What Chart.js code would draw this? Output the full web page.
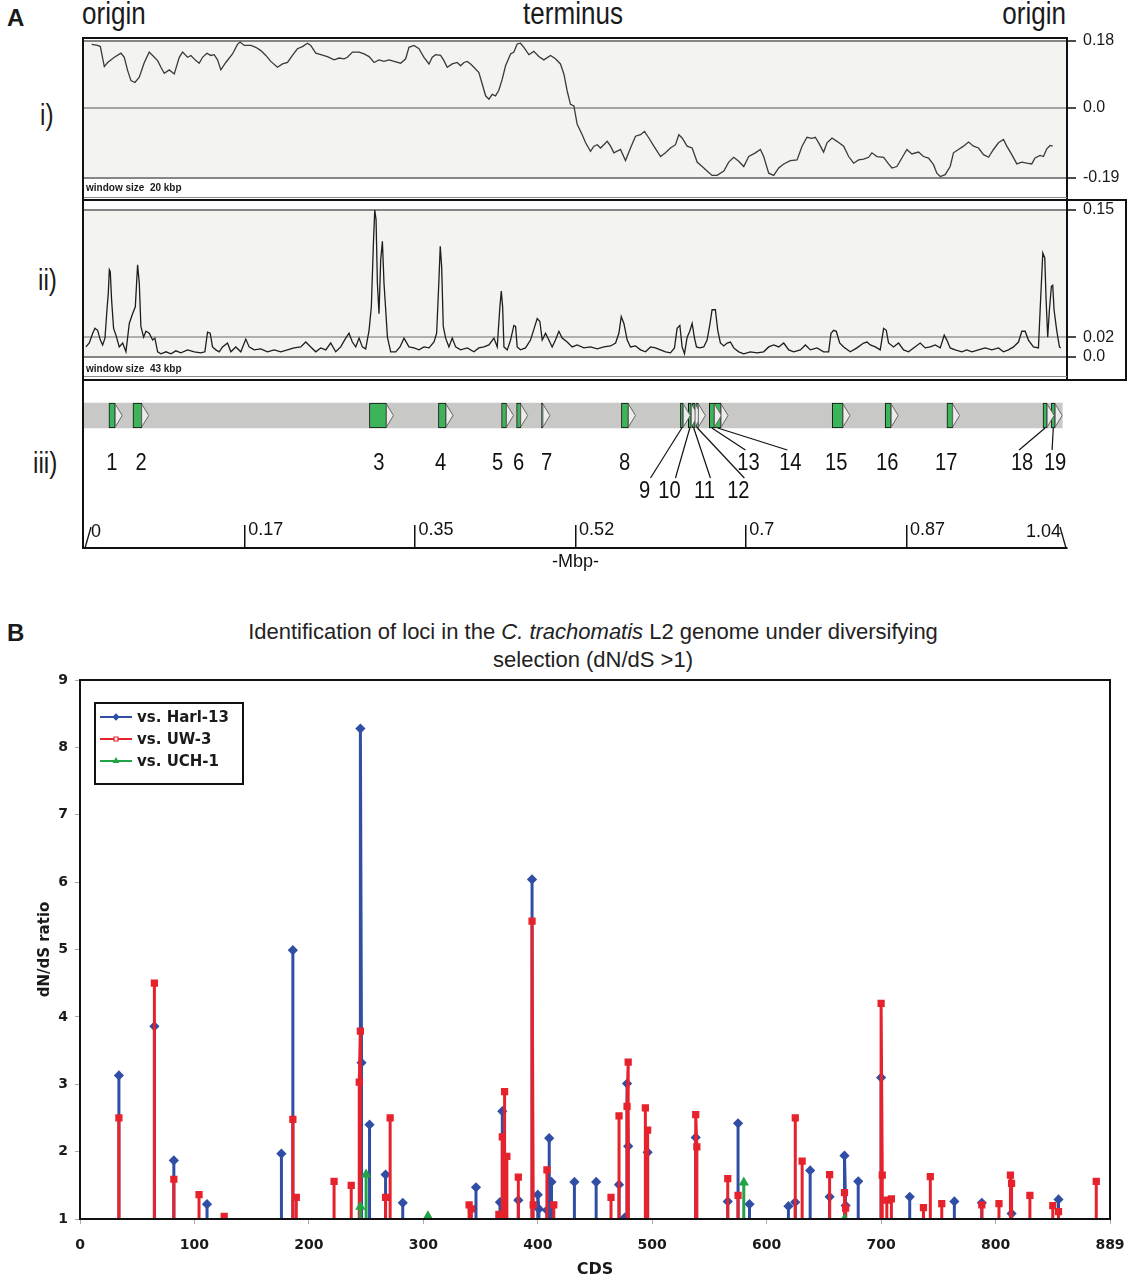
<!DOCTYPE html>
<html>
<head>
<meta charset="utf-8">
<title>C. trachomatis L2 genome</title>
<script src="https://cdn.jsdelivr.net/npm/chart.js@4.4.1/dist/chart.umd.min.js"></script>
<style>
html,body{margin:0;padding:0;background:#fff;}
#page{position:relative;width:1127px;height:1280px;overflow:hidden;background:#fff;color:#1a1a1a;font-family:'Liberation Sans',Arial,sans-serif;}
.t{position:absolute;white-space:nowrap;line-height:1;}
.n{font-family:'Liberation Sans Narrow','Liberation Sans',Arial,sans-serif;transform:scaleX(0.84);}
.r{position:absolute;background:#111;}
.g{position:absolute;background:#8a8a8a;}
.cv{position:absolute;}
</style>
</head>
<body>
<div id="page">
  <div class="t" style="left:7px;top:6px;font-weight:bold;font-size:24px;">A</div>
  <div class="t n" style="left:82px;top:-2px;font-size:31px;transform-origin:left center;">origin</div>
  <div class="t n" style="left:473px;width:200px;text-align:center;top:-2px;font-size:31px;transform-origin:center center;">terminus</div>
  <div class="t n" style="left:866px;width:200px;text-align:right;top:-2px;font-size:31px;transform-origin:right center;">origin</div>
  <div class="t n" style="left:40px;top:101px;font-size:29px;transform-origin:left center;">i)</div>
  <div class="t n" style="left:38px;top:266px;font-size:29px;transform-origin:left center;">ii)</div>
  <div class="t n" style="left:33px;top:449px;font-size:29px;transform-origin:left center;">iii)</div>

  <canvas id="c1" class="cv" width="1043" height="174" style="left:84px;top:26px"></canvas>
  <canvas id="c2" class="cv" width="1043" height="188" style="left:84px;top:192px"></canvas>
  <canvas id="c3" class="cv" width="1043" height="130" style="left:84px;top:385px"></canvas>
  <canvas id="c4" class="cv" width="1043" height="65" style="left:84px;top:515px"></canvas>

  <div class="r" style="left:82px;top:37px;width:986px;height:2px"></div>
  <div class="r" style="left:82px;top:37px;width:2px;height:512px"></div>
  <div class="r" style="left:1066px;top:37px;width:2px;height:344px"></div>
  <div class="g" style="left:84px;top:197px;width:983px;height:1px"></div>
  <div class="r" style="left:82px;top:199px;width:1045px;height:2px"></div>
  <div class="r" style="left:1125px;top:199px;width:2px;height:182px"></div>
  <div class="g" style="left:84px;top:376px;width:983px;height:1px"></div>
  <div class="r" style="left:82px;top:379px;width:1045px;height:2px"></div>

  <div class="t" style="left:86px;top:183px;font-size:10px;font-weight:bold;">window size&nbsp;&nbsp;20 kbp</div>
  <div class="t" style="left:86px;top:364px;font-size:10px;font-weight:bold;">window size&nbsp;&nbsp;43 kbp</div>

  <div class="t" style="left:7px;top:621px;font-weight:bold;font-size:24px;">B</div>
  <div class="t" style="left:93px;width:1000px;text-align:center;top:618px;font-size:22px;line-height:28px;white-space:normal;color:#222;">Identification of loci in the <i>C. trachomatis</i> L2 genome under diversifying<br>selection (dN/dS &gt;1)</div>
  <canvas id="cB" class="cv" width="1127" height="610" style="left:0;top:670px"></canvas>
</div>
<script>
// ---------------- DATA ----------------
// Panel A i) : sliding-window skew, [position (Mbp), value]
const skewPoints = [
[0.0081,0.171],[0.0144,0.168],[0.0173,0.165],[0.0215,0.111],[0.025,0.122],[0.0321,0.136],[0.0391,0.147],[0.0426,0.136],[0.0462,0.100],[0.0497,0.073],
[0.0539,0.068],[0.0585,0.082],[0.0638,0.122],[0.069,0.150],[0.0726,0.141],[0.0779,0.127],[0.0814,0.109],[0.0849,0.093],[0.0902,0.102],[0.0955,0.091],
[0.1008,0.136],[0.1043,0.150],[0.1096,0.136],[0.1131,0.141],[0.1184,0.127],[0.1219,0.120],[0.1254,0.136],[0.13,0.147],[0.1342,0.141],[0.1377,0.143],
[0.1413,0.129],[0.1448,0.102],[0.15,0.122],[0.1571,0.145],[0.1624,0.171],[0.1652,0.177],[0.1695,0.168],[0.1765,0.168],[0.1818,0.163],[0.1871,0.154],
[0.1924,0.141],[0.1976,0.125],[0.2047,0.109],[0.21,0.118],[0.2153,0.122],[0.2205,0.141],[0.2258,0.159],[0.2311,0.165],[0.2364,0.174],[0.2399,0.168],
[0.2452,0.147],[0.2505,0.143],[0.2575,0.138],[0.2646,0.129],[0.2699,0.134],[0.2751,0.132],[0.2787,0.136],[0.284,0.150],[0.291,0.150],[0.2963,0.145],
[0.3016,0.138],[0.3069,0.122],[0.3121,0.129],[0.3174,0.125],[0.3227,0.129],[0.328,0.125],[0.335,0.120],[0.3403,0.132],[0.3438,0.163],[0.3491,0.168],
[0.3544,0.159],[0.3597,0.136],[0.365,0.118],[0.3685,0.136],[0.372,0.143],[0.3773,0.141],[0.3808,0.127],[0.3843,0.109],[0.3896,0.118],[0.3949,0.122],
[0.3984,0.113],[0.402,0.122],[0.4055,0.125],[0.409,0.118],[0.4125,0.109],[0.4178,0.095],[0.4213,0.064],[0.4249,0.032],[0.4284,0.023],[0.4319,0.036],
[0.4354,0.032],[0.4389,0.047],[0.4425,0.077],[0.446,0.113],[0.4513,0.145],[0.4548,0.150],[0.4583,0.172],[0.4618,0.174],[0.4654,0.163],[0.4707,0.143],
[0.4759,0.152],[0.4812,0.138],[0.4865,0.129],[0.4936,0.141],[0.4988,0.132],[0.5041,0.118],[0.5077,0.091],[0.5112,0.045],[0.5147,0.009],[0.5183,0.0045],
[0.5218,-0.045],[0.5271,-0.073],[0.5307,-0.095],[0.5359,-0.118],[0.5395,-0.104],[0.543,-0.100],[0.5465,-0.109],[0.55,-0.100],[0.5536,-0.091],[0.5571,-0.104],
[0.5606,-0.122],[0.5676,-0.113],[0.5729,-0.143],[0.5782,-0.109],[0.5835,-0.077],[0.5888,-0.073],[0.593,-0.064],[0.5976,-0.082],[0.6029,-0.104],[0.61,-0.132],
[0.6152,-0.122],[0.6205,-0.109],[0.6258,-0.100],[0.6293,-0.073],[0.6328,-0.082],[0.6381,-0.104],[0.6434,-0.109],[0.6487,-0.147],[0.654,-0.159],[0.6592,-0.171],
[0.6645,-0.183],[0.6698,-0.183],[0.6769,-0.171],[0.6821,-0.147],[0.6874,-0.134],[0.6927,-0.145],[0.698,-0.159],[0.7033,-0.132],[0.7103,-0.122],[0.7156,-0.113],
[0.7191,-0.132],[0.7244,-0.177],[0.7297,-0.183],[0.735,-0.163],[0.7403,-0.152],[0.7473,-0.143],[0.7544,-0.141],[0.7597,-0.104],[0.7649,-0.080],[0.7702,-0.083],
[0.7737,-0.080],[0.7773,-0.095],[0.7825,-0.120],[0.7861,-0.095],[0.7914,-0.082],[0.7966,-0.091],[0.8037,-0.104],[0.809,-0.132],[0.8143,-0.150],[0.8195,-0.141],
[0.8248,-0.139],[0.8301,-0.134],[0.8336,-0.122],[0.8389,-0.132],[0.846,-0.134],[0.8512,-0.152],[0.8548,-0.163],[0.86,-0.159],[0.8653,-0.136],[0.8706,-0.113],
[0.8759,-0.125],[0.8829,-0.120],[0.8882,-0.132],[0.8935,-0.136],[0.8988,-0.154],[0.9023,-0.177],[0.9059,-0.186],[0.9111,-0.181],[0.9164,-0.159],[0.9199,-0.122],
[0.9252,-0.113],[0.9305,-0.104],[0.9358,-0.093],[0.9411,-0.104],[0.9464,-0.109],[0.9517,-0.127],[0.957,-0.134],[0.9622,-0.113],[0.9675,-0.095],[0.9728,-0.086],
[0.9763,-0.104],[0.9816,-0.127],[0.9869,-0.152],[0.9922,-0.147],[0.9975,-0.150],[1.0027,-0.152],[1.0062,-0.136],[1.0115,-0.129],[1.0151,-0.132],[1.0186,-0.111],
[1.0221,-0.102],[1.0249,-0.104]
];
const skewTicks = [0.18, 0, -0.19];
const skewTickLabels = ['0.18', '0.0', '-0.19'];

// Panel A ii) : sliding-window values, [position (Mbp), value]
const divPoints = [
[0.002,0.010],[0.0056,0.014],[0.0092,0.024],[0.0116,0.029],[0.0144,0.027],[0.0173,0.017],[0.0197,0.012],[0.0222,0.019],[0.0243,0.048],[0.0257,0.065],
[0.0268,0.089],[0.0278,0.087],[0.0292,0.058],[0.0313,0.029],[0.0338,0.022],[0.0373,0.010],[0.0409,0.014],[0.0444,0.005],[0.0479,0.034],[0.0514,0.044],
[0.0543,0.051],[0.0567,0.094],[0.0585,0.075],[0.0602,0.031],[0.0631,0.020],[0.0655,0.026],[0.069,0.024],[0.0726,0.017],[0.075,0.019],[0.0779,0.005],
[0.0814,0.003],[0.0867,0.005],[0.092,0.003],[0.0972,0.006],[0.1025,0.004],[0.1096,0.007],[0.1166,0.005],[0.1237,0.004],[0.1279,0.005],[0.1307,0.025],
[0.1335,0.024],[0.136,0.010],[0.1395,0.007],[0.143,0.005],[0.1466,0.010],[0.1518,0.014],[0.1554,0.005],[0.1606,0.010],[0.1659,0.005],[0.1712,0.018],
[0.1747,0.010],[0.18,0.007],[0.187,0.008],[0.1941,0.005],[0.2012,0.007],[0.2082,0.005],[0.2153,0.007],[0.2223,0.009],[0.2293,0.010],[0.2346,0.015],
[0.2399,0.010],[0.2452,0.005],[0.2505,0.009],[0.2558,0.007],[0.261,0.014],[0.2663,0.005],[0.2716,0.010],[0.2769,0.019],[0.2804,0.024],[0.2839,0.015],
[0.2875,0.010],[0.291,0.019],[0.2945,0.010],[0.298,0.008],[0.3016,0.027],[0.304,0.051],[0.3062,0.116],[0.3076,0.150],[0.309,0.140],[0.3104,0.075],
[0.3121,0.044],[0.3139,0.099],[0.3157,0.118],[0.3174,0.075],[0.3192,0.048],[0.321,0.020],[0.3245,0.005],[0.3298,0.005],[0.3343,0.010],[0.3386,0.019],
[0.3438,0.010],[0.3491,0.009],[0.3544,0.007],[0.3597,0.010],[0.365,0.009],[0.3703,0.015],[0.3731,0.024],[0.3755,0.078],[0.3769,0.113],[0.3784,0.092],
[0.3801,0.031],[0.3826,0.019],[0.3861,0.010],[0.3896,0.019],[0.3932,0.010],[0.3984,0.007],[0.4055,0.009],[0.4125,0.005],[0.4178,0.009],[0.4231,0.010],
[0.4284,0.012],[0.4337,0.019],[0.4372,0.010],[0.44,0.051],[0.4415,0.067],[0.4429,0.051],[0.4443,0.010],[0.4478,0.007],[0.4513,0.017],[0.4548,0.032],
[0.4566,0.031],[0.4583,0.010],[0.4618,0.007],[0.4671,0.009],[0.4724,0.017],[0.4795,0.039],[0.4823,0.036],[0.4848,0.017],[0.4883,0.024],[0.4918,0.017],
[0.4953,0.010],[0.4988,0.017],[0.5024,0.026],[0.5059,0.019],[0.5112,0.015],[0.5165,0.010],[0.5218,0.012],[0.5289,0.009],[0.5359,0.010],[0.543,0.008],
[0.55,0.010],[0.5571,0.011],[0.5624,0.014],[0.5659,0.024],[0.5684,0.041],[0.5712,0.034],[0.5747,0.017],[0.5782,0.010],[0.5835,0.011],[0.5888,0.007],
[0.5941,0.005],[0.5994,0.010],[0.6046,0.009],[0.6099,0.007],[0.6152,0.005],[0.6205,0.004],[0.6247,0.009],[0.6275,0.029],[0.6304,0.032],[0.6328,0.010],
[0.6353,0.003],[0.6381,0.020],[0.6409,0.026],[0.6434,0.034],[0.6459,0.019],[0.648,0.010],[0.6515,0.009],[0.6557,0.010],[0.6592,0.017],[0.662,0.032],
[0.6645,0.048],[0.668,0.048],[0.6705,0.027],[0.6733,0.014],[0.6769,0.011],[0.6804,0.014],[0.6839,0.015],[0.6874,0.009],[0.6927,0.005],[0.698,0.003],
[0.705,0.005],[0.7121,0.004],[0.7191,0.005],[0.7244,0.010],[0.7297,0.012],[0.735,0.010],[0.7403,0.014],[0.7456,0.007],[0.7508,0.005],[0.7579,0.007],
[0.7632,0.012],[0.7685,0.007],[0.7755,0.009],[0.7825,0.005],[0.7878,0.005],[0.7903,0.024],[0.7931,0.027],[0.7959,0.026],[0.7995,0.014],[0.8037,0.010],
[0.8107,0.005],[0.8178,0.009],[0.8248,0.014],[0.8284,0.015],[0.8319,0.012],[0.8372,0.010],[0.8424,0.007],[0.846,0.029],[0.8488,0.027],[0.8512,0.014],
[0.8565,0.010],[0.8618,0.014],[0.8671,0.007],[0.8724,0.005],[0.8777,0.009],[0.8847,0.014],[0.89,0.009],[0.8953,0.010],[0.9006,0.012],[0.9059,0.009],
[0.9101,0.022],[0.9129,0.017],[0.9164,0.009],[0.9217,0.007],[0.9287,0.005],[0.934,0.007],[0.9393,0.005],[0.9464,0.007],[0.9534,0.009],[0.9605,0.007],
[0.9675,0.009],[0.9728,0.005],[0.9781,0.007],[0.9834,0.010],[0.9887,0.015],[0.9922,0.026],[0.9957,0.026],[0.9992,0.017],[1.0045,0.010],[1.0098,0.009],
[1.0122,0.061],[1.0144,0.106],[1.0165,0.101],[1.0179,0.058],[1.0196,0.020],[1.0214,0.048],[1.0235,0.072],[1.0249,0.073],[1.0263,0.048],[1.0291,0.027],
[1.032,0.010],[1.0334,0.009]
];
const divTicks = [0.15, 0.02, 0];
const divTickLabels = ['0.15', '0.02', '0.0'];

// Panel A iii) : loci (Mbp)
const geneLabels = ['1','2','3','4','5','6','7','8','9','10','11','12','13','14','15','16','17','18','19'];
const geneStart = [0.0264,0.0518,0.302,0.375,0.4418,0.4577,0.484,0.5686,0.631,0.6394,0.6437,0.648,0.6616,0.667,0.7916,0.8476,0.913,1.0146,1.0235];
const geneEnd   = [0.033,0.061,0.320,0.383,0.447,0.462,0.4855,0.576,0.634,0.6425,0.6465,0.650,0.667,0.674,0.803,0.854,0.919,1.019,1.0275];
const labelMbp  = [0.0296,0.0603,0.3119,0.3774,0.4376,0.4598,0.4894,0.5719,0.593,0.6194,0.6564,0.6923,0.7029,0.7473,0.7959,0.8498,0.9122,0.9925,1.0274];
const labelRow  = [0,0,0,0,0,0,0,0,1,1,1,1,0,0,0,0,0,0,0];
const hasLeader = [0,0,0,0,0,0,0,0,1,1,1,1,1,1,0,0,0,1,1];
const genomeLength = 1.04;
const mbpTicks = [0, 0.17, 0.35, 0.52, 0.7, 0.87, 1.04];
const mbpTickLabels = ['0', '0.17', '0.35', '0.52', '0.7', '0.87', '1.04'];

// Panel B : dN/dS > 1 per CDS
const harlCDS = [34,65,82,111,176,186,245,246,253,267,282,346,367,369,383,395,400,401,408,410,412,432,451,471,476,478,479,496,538,566,575,585,619,625,638,655,668,669,680,700,725,764,788,814,855];
const harlVal = [3.13,3.86,1.87,1.22,1.97,4.99,8.28,3.32,2.40,1.66,1.24,1.47,1.25,2.60,1.28,6.04,1.36,1.15,1.13,2.20,1.55,1.55,1.55,1.51,1.02,3.01,2.08,1.99,2.21,1.26,2.42,1.22,1.19,1.25,1.72,1.33,1.94,1.20,1.56,3.10,1.33,1.26,1.24,1.08,1.29];
const uw3CDS = [34,65,82,104,126,186,189,222,237,244,245,267,271,340,342,366,369,371,373,383,395,396,408,414,464,471,478,479,494,496,538,539,566,575,625,631,655,668,669,700,701,705,709,737,743,753,788,803,813,814,830,850,855,888];
const uw3Val = [2.50,4.50,1.59,1.36,1.04,2.48,1.32,1.56,1.50,3.03,3.79,1.32,2.50,1.21,1.15,1.07,2.22,2.89,1.93,1.62,5.42,1.21,1.73,1.21,1.32,2.53,2.67,3.33,2.65,2.32,2.55,2.07,1.60,1.35,2.50,1.86,1.66,1.39,1.16,4.20,1.65,1.28,1.30,1.17,1.63,1.23,1.21,1.23,1.65,1.53,1.35,1.20,1.11,1.56];
const uch1CDS = [245,250,304,580,668];
const uch1Val = [1.18,1.66,1.04,1.54,1.00];
const seriesNames = ['vs. Harl-13', 'vs. UW-3', 'vs. UCH-1'];
const cdsTicks = [0,100,200,300,400,500,600,700,800,900];
const cdsTickLabels = ['0','100','200','300','400','500','600','700','800','889'];
const ratioMin = 1, ratioMax = 9;

// ---------------- RENDERING ----------------
const NARROW = "'Liberation Sans Narrow','Liberation Sans',Arial,sans-serif";
const DV = "'DejaVu Sans',Verdana,sans-serif";
Chart.defaults.font.family = NARROW;
Chart.defaults.animation = false;
Chart.defaults.color = '#1a1a1a';

const bandPlugin = {
  id: 'band',
  beforeDraw(chart, args, o) {
    const {ctx, chartArea: a, scales: {y}} = chart;
    const y1 = y.getPixelForValue(o.from), y2 = y.getPixelForValue(o.to);
    ctx.save(); ctx.fillStyle = o.color; ctx.fillRect(a.left, y1, a.right - a.left, y2 - y1); ctx.restore();
  }
};

function noPadV(s) { s.paddingTop = 0; s.paddingBottom = 0; }
function noPadH(s) { s.paddingLeft = 0; s.paddingRight = 0; }

function trackOptions(min, max, ticks, labels, band, lineColorFn, padTop) {
  return {
    responsive: false, animation: false,
    layout: {padding: {top: padTop, bottom: 2, left: 0, right: 0}},
    plugins: {legend: {display: false}, tooltip: {enabled: false}, band: band},
    scales: {
      x: {type: 'linear', min: 0, max: genomeLength, display: false},
      y: {
        position: 'right', min: min, max: max, bounds: 'data',
        afterFit(s) { s.width = 60; noPadV(s); },
        afterBuildTicks(s) { s.ticks = ticks.map(v => ({value: v})); },
        ticks: {callback: (v, i) => labels[i], color: '#1a1a1a', font: {size: 16}, padding: 7, autoSkip: false},
        grid: {color: lineColorFn, lineWidth: 2, tickColor: '#111', tickLength: 9, tickWidth: 1.5, drawOnChartArea: true},
        border: {display: true, color: '#111', width: 2}
      }
    }
  };
}

new Chart(document.getElementById('c1'), {
  type: 'line',
  data: {datasets: [{data: skewPoints.map(p => ({x: p[0], y: p[1]})), borderColor: '#3a3a3a', borderWidth: 1.3, pointRadius: 0, tension: 0}]},
  options: trackOptions(-0.244, 0.1881, skewTicks, skewTickLabels, {from: 0.18, to: -0.19, color: '#f3f3f0'},
    c => (c.tick && c.tick.value === 0) ? '#a5a5a5' : '#858585', 12),
  plugins: [bandPlugin]
});

new Chart(document.getElementById('c2'), {
  type: 'line',
  data: {datasets: [{data: divPoints.map(p => ({x: p[0], y: p[1]})), borderColor: '#1e1e1e', borderWidth: 1.3, pointRadius: 0, tension: 0}]},
  options: trackOptions(-0.02178, 0.15818, divTicks, divTickLabels, {from: 0.15, to: 0, color: '#f3f3f0'},
    c => (c.tick && c.tick.value === 0.02) ? '#b0b0b0' : '#858585', 10),
  plugins: [bandPlugin]
});

// Panel iii: loci as floating bars
const geneDecor = {
  id: 'geneDecor',
  afterDatasetsDraw(chart) {
    const {ctx, scales: {x}} = chart;
    const meta = chart.getDatasetMeta(0);
    ctx.save();
    meta.data.forEach(el => {
      const xe = el.x, h = el.height, yc = el.y;
      ctx.beginPath();
      ctx.moveTo(xe, yc - h / 2 + 1); ctx.lineTo(xe + 7, yc); ctx.lineTo(xe, yc + h / 2 - 1); ctx.closePath();
      ctx.fillStyle = '#ececea'; ctx.fill();
      ctx.strokeStyle = '#666'; ctx.lineWidth = 1; ctx.stroke();
    });
    const rowY = [77, 105];
    geneLabels.forEach((lab, i) => {
      const lx = x.getPixelForValue(labelMbp[i]);
      const ly = rowY[labelRow[i]];
      if (hasLeader[i]) {
        const el = meta.data[i];
        const gx = (el.x + el.base) / 2;
        ctx.beginPath();
        ctx.moveTo(gx, el.y + el.height / 2);
        ctx.lineTo(lx + (labelRow[i] ? 6 : -3), ly - 12);
        ctx.strokeStyle = '#111'; ctx.lineWidth = 1.2; ctx.stroke();
      }
      ctx.save();
      ctx.translate(lx, ly);
      ctx.scale(0.84, 1);
      ctx.font = '24px ' + NARROW; ctx.fillStyle = '#111'; ctx.textAlign = 'center'; ctx.textBaseline = 'middle';
      ctx.fillText(lab, 0, 1);
      ctx.restore();
    });
    ctx.restore();
  }
};

new Chart(document.getElementById('c3'), {
  type: 'bar',
  data: {
    labels: ['genome'],
    datasets: [
      {data: geneStart.map((s, i) => ({x: [s, geneEnd[i]], y: 'genome'})), backgroundColor: '#3db45a', borderColor: '#111', borderWidth: 1, borderSkipped: false, barThickness: 25, grouped: false, order: 0},
      {data: [{x: [0, 1.035], y: 'genome'}], backgroundColor: '#c8c8c6', borderWidth: 0, barThickness: 25, grouped: false, order: 1}
    ]
  },
  options: {
    indexAxis: 'y', responsive: false, animation: false,
    layout: {padding: {top: 0, bottom: 69, left: 0, right: 60}},
    plugins: {legend: {display: false}, tooltip: {enabled: false}},
    scales: {
      x: {type: 'linear', min: 0, max: genomeLength, display: false},
      y: {type: 'category', display: false}
    }
  },
  plugins: [geneDecor]
});

// Mbp axis
const mbpEnds = {
  id: 'mbpEnds',
  afterDraw(chart) {
    const {ctx, chartArea: a, scales: {x}} = chart;
    const last = mbpTicks.length - 1;
    const x0 = x.getPixelForValue(mbpTicks[0]), x1 = x.getPixelForValue(mbpTicks[last]);
    ctx.save();
    ctx.strokeStyle = '#111'; ctx.lineWidth = 1.3;
    ctx.beginPath(); ctx.moveTo(x0 + 1, a.bottom); ctx.lineTo(x0 + 7, a.top + 2); ctx.stroke();
    ctx.beginPath(); ctx.moveTo(x1 - 1, a.bottom); ctx.lineTo(x1 - 7, a.top + 2); ctx.stroke();
    ctx.fillStyle = '#111'; ctx.font = '18px ' + NARROW; ctx.textBaseline = 'top';
    ctx.textAlign = 'left'; ctx.fillText(mbpTickLabels[0], x0 + 7, a.top - 2);
    ctx.textAlign = 'right'; ctx.fillText(mbpTickLabels[last], x1 - 6, a.top - 2);
    ctx.restore();
  }
};
new Chart(document.getElementById('c4'), {
  type: 'line',
  data: {datasets: [{data: []}]},
  options: {
    responsive: false, animation: false,
    layout: {padding: {top: 10, bottom: 0, left: 0, right: 60}},
    plugins: {legend: {display: false}, tooltip: {enabled: false}},
    scales: {
      y: {display: false},
      x: {
        type: 'linear', min: 0, max: genomeLength, bounds: 'data', position: 'bottom',
        afterFit(s) { s.height = 32; noPadH(s); },
        afterBuildTicks(s) { s.ticks = mbpTicks.map(v => ({value: v})); },
        ticks: {
          autoSkip: false, maxRotation: 0, align: 'start', mirror: true, padding: 7, color: '#111', font: {size: 18},
          callback: (v, i) => (i === 0 || i === mbpTicks.length - 1) ? '' : '\u2009' + mbpTickLabels[i]
        },
        grid: {drawOnChartArea: true, drawTicks: false, lineWidth: 1.5,
               color: c => (c.index === 0 || c.index === mbpTicks.length - 1) ? 'rgba(0,0,0,0)' : '#111'},
        border: {display: true, color: '#111', width: 2},
        title: {display: true, text: '-Mbp-', color: '#111', font: {size: 18}, padding: {top: 0, bottom: 7}}
      }
    }
  },
  plugins: [mbpEnds]
});

// ---------------- Panel B ----------------
function spikes(cds, vals) {
  const out = [];
  for (let i = 0; i < cds.length; i++) {
    const prevAdj = i > 0 && cds[i] - cds[i - 1] === 1;
    const nextAdj = i < cds.length - 1 && cds[i + 1] - cds[i] === 1;
    if (!prevAdj) out.push({x: cds[i], y: ratioMin, m: false});
    out.push({x: cds[i], y: vals[i], m: true});
    if (!nextAdj) { out.push({x: cds[i], y: ratioMin, m: false}); out.push({x: cds[i], y: null, m: false}); }
  }
  return out;
}
const BLUE = '#2f4ea4', RED = '#e6222d', GREEN = '#22a446';

const frameB = {
  id: 'frameB',
  afterDraw(chart) {
    const {ctx, chartArea: a} = chart;
    ctx.save();
    ctx.strokeStyle = '#111'; ctx.lineWidth = 2;
    ctx.strokeRect(a.left, a.top, a.right - a.left, a.bottom - a.top);
    // legend box
    const x0 = a.left + 15, y0 = a.top + 23, w = 148, h = 81;
    ctx.fillStyle = '#fff'; ctx.fillRect(x0, y0, w, h);
    ctx.strokeRect(x0, y0, w, h);
    chart.data.datasets.forEach((ds, i) => {
      const cy = y0 + 14 + i * 22;
      ctx.strokeStyle = ds.borderColor; ctx.lineWidth = 2;
      ctx.beginPath(); ctx.moveTo(x0 + 5, cy); ctx.lineTo(x0 + 37, cy); ctx.stroke();
      ctx.fillStyle = ds.legendFill; ctx.strokeStyle = ds.borderColor; ctx.lineWidth = 1.2;
      Chart.helpers.drawPoint(ctx, {pointStyle: ds.pointStyle, radius: 2.8, rotation: 0, borderWidth: 1.2}, x0 + 21, cy);
      ctx.fillStyle = '#1a1a1a'; ctx.font = 'bold 15px ' + DV; ctx.textAlign = 'left'; ctx.textBaseline = 'middle';
      ctx.fillText(ds.label, x0 + 42, cy + 1);
    });
    ctx.restore();
  }
};

const markRadius = c => (c.raw && c.raw.m) ? 3 : 0;
new Chart(document.getElementById('cB'), {
  type: 'line',
  data: {
    datasets: [
      {label: seriesNames[0], order: 2, data: spikes(harlCDS, harlVal), borderColor: BLUE, backgroundColor: BLUE, pointBackgroundColor: BLUE, pointBorderColor: BLUE, legendFill: BLUE, pointStyle: 'rectRot', pointRadius: markRadius, borderWidth: 3, spanGaps: false, tension: 0},
      {label: seriesNames[1], order: 1, data: spikes(uw3CDS, uw3Val), borderColor: RED, backgroundColor: RED, pointBackgroundColor: RED, pointBorderColor: RED, legendFill: '#fff', pointStyle: 'rect', pointRadius: markRadius, borderWidth: 3, spanGaps: false, tension: 0},
      {label: seriesNames[2], order: 0, data: spikes(uch1CDS, uch1Val), borderColor: GREEN, backgroundColor: GREEN, pointBackgroundColor: GREEN, pointBorderColor: GREEN, legendFill: GREEN, pointStyle: 'triangle', pointRadius: markRadius, borderWidth: 3, spanGaps: false, tension: 0}
    ]
  },
  options: {
    responsive: false, animation: false,
    layout: {padding: {top: 10, right: 17, left: 0, bottom: 0}},
    plugins: {legend: {display: false}, tooltip: {enabled: false}},
    scales: {
      x: {
        type: 'linear', min: 0, max: 900, bounds: 'data',
        afterFit(s) { s.height = 61; noPadH(s); },
        afterBuildTicks(s) { s.ticks = cdsTicks.map(v => ({value: v})); },
        ticks: {autoSkip: false, maxRotation: 0, padding: 13, color: '#1a1a1a', font: {family: DV, size: 14, weight: 'bold'},
                callback: (v, i) => cdsTickLabels[i]},
        grid: {drawOnChartArea: false, drawTicks: true, tickLength: 5, tickColor: '#aaa'},
        border: {display: true, color: '#111', width: 2},
        title: {display: true, text: 'CDS', color: '#1a1a1a', font: {family: DV, size: 16, weight: 'bold'}, padding: {top: 0, bottom: 0.5}}
      },
      y: {
        min: ratioMin, max: ratioMax,
        afterFit(s) { s.width = 80; noPadV(s); },
        ticks: {stepSize: 1, padding: 7, color: '#1a1a1a', font: {family: DV, size: 14, weight: 'bold'}},
        grid: {drawOnChartArea: false, drawTicks: true, tickLength: 5, tickColor: '#aaa'},
        border: {display: true, color: '#111', width: 2},
        title: {display: true, text: 'dN/dS ratio', color: '#1a1a1a', font: {family: DV, size: 15, weight: 'bold'}, padding: {top: 36, bottom: 0}}
      }
    }
  },
  plugins: [frameB]
});
</script>
</body>
</html>
